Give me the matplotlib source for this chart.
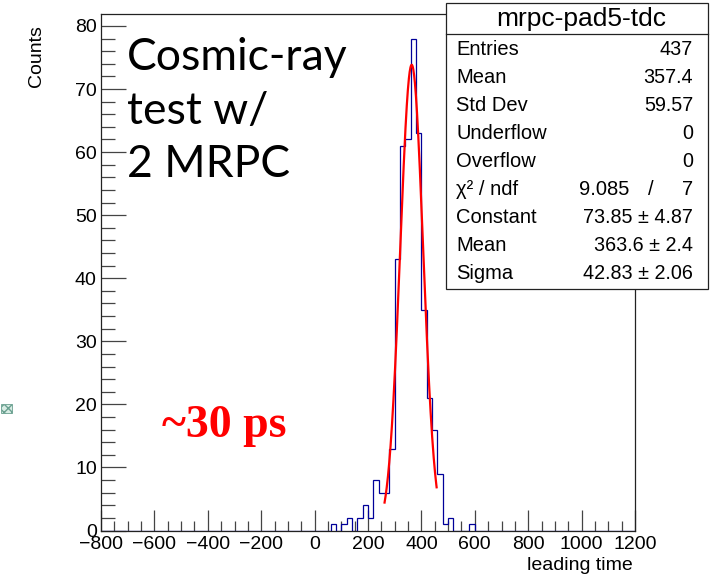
import numpy as np
import matplotlib
matplotlib.use('Agg')
import matplotlib.pyplot as plt
from matplotlib.patches import Rectangle
from matplotlib.ticker import MultipleLocator

# histogram contents (bins of 20 over -800..1200, only non-empty bins listed)
bin_low = [60, 100, 120, 160, 180, 200, 220, 240, 260, 280, 300, 320, 340,
           360, 380, 400, 420, 440, 460, 480, 500, 580]
counts = [1, 1, 2, 2, 4, 2, 8, 6, 6, 13, 43, 61, 62,
          78, 63, 35, 21, 16, 9, 1, 2, 1]

# gaus fit result
fit_const, fit_mean, fit_sigma = 73.85, 363.6, 42.83
fit_lo, fit_hi = 262, 457

stats_title = "mrpc-pad5-tdc"
stats_rows = [
    ("Entries", "437"),
    ("Mean", "357.4"),
    ("Std Dev", "59.57"),
    ("Underflow", "0"),
    ("Overflow", "0"),
    ("\u03c7\u00b2 / ndf", None),
    ("Constant", "73.85 \u00b1 4.87"),
    ("Mean", "363.6 \u00b1 2.4"),
    ("Sigma", "42.83 \u00b1 2.06"),
]
chi2, ndf = "9.085", "7"

note_lines = ["Cosmic-ray", "test w/", "2 MRPC"]

plt.rcParams['font.family'] = ['Liberation Sans', 'DejaVu Sans']

fig = plt.figure(figsize=(7.17, 5.79), dpi=100)
ax = fig.add_axes([101 / 717, 1 - 530.5 / 579, 534 / 717, 516.5 / 579])

edges = np.arange(-800, 1201, 20)
centers = np.array(bin_low) + 10
ax.hist(centers, bins=edges, weights=counts, histtype='step',
        color='#000099', linewidth=0.9)

xf = np.linspace(fit_lo, fit_hi, 200)
yf = fit_const * np.exp(-0.5 * ((xf - fit_mean) / fit_sigma) ** 2)
ax.plot(xf, yf, color='red', linewidth=1.6)

ax.set_xlim(-800, 1200)
ax.set_ylim(0, 81.9)
ax.xaxis.set_major_locator(MultipleLocator(200))
ax.xaxis.set_minor_locator(MultipleLocator(50))
ax.yaxis.set_major_locator(MultipleLocator(10))
ax.yaxis.set_minor_locator(MultipleLocator(2))
ax.tick_params(axis='both', which='both', direction='in', labelsize=14,
               color='#444444')
ax.tick_params(axis='y', which='major', length=18, width=0.9, pad=3)
ax.tick_params(axis='y', which='minor', length=10, width=0.9)
ax.tick_params(axis='x', which='major', length=15, width=0.9, pad=4)
ax.tick_params(axis='x', which='minor', length=7.5, width=0.9)
for s in ax.spines.values():
    s.set_linewidth(0.9)
    s.set_color('#222222')

ax.set_xticks(np.arange(-800, 1201, 200))
ax.set_xticklabels([("\u2212" + str(-v)) if v < 0 else str(v)
                    for v in range(-800, 1201, 200)])

fig.text(633 / 717, 1 - 566 / 579, "leading time", ha='right', va='center',
         fontsize=14)
fig.text(36 / 717, 1 - 25 / 579, "Counts", ha='center', va='top',
         rotation=90, fontsize=14)

# annotations
for line, base in zip(note_lines, [70.5, 123.5, 177]):
    fig.text(127 / 717, 1 - base / 579, line, ha='left', va='baseline',
             fontsize=32, family='Lato', color='black')
fig.text(162 / 717, 1 - 437 / 579, "~30 ps", ha='left', va='baseline',
         fontsize=33, family='Liberation Serif', fontweight='bold',
         color='red')

# stats box
bx0, bx1 = 446 / 717, 708 / 717
by0, by1 = 1 - 289 / 579, 1 - 3 / 579
fig.patches.append(Rectangle((bx0, by0), bx1 - bx0, by1 - by0,
                             transform=fig.transFigure, facecolor='white',
                             edgecolor='#222222', linewidth=0.9, zorder=5))
fig.lines.append(plt.Line2D([bx0, bx1], [1 - 34 / 579] * 2,
                            transform=fig.transFigure, color='#222222',
                            linewidth=0.9, zorder=6))
fig.text(581 / 717, 1 - 19 / 579, stats_title, ha='center',
         va='center', fontsize=19, zorder=7)
xl, xr = 456 / 717, 693 / 717
for i, (name, val) in enumerate(stats_rows):
    y = 1 - (49.5 + i * 28) / 579
    fig.text(xl, y, name, ha='left', va='center', fontsize=14.5, zorder=7)
    if val is None:
        # chi2 row is spread out in the original box
        fig.text(629 / 717, y, chi2, ha='right', va='center', fontsize=14.5,
                 zorder=7)
        fig.text(651 / 717, y, "/", ha='center', va='center', fontsize=14.5,
                 zorder=7)
        fig.text(xr, y, ndf, ha='right', va='center', fontsize=14.5,
                 zorder=7)
    else:
        fig.text(xr, y, val, ha='right', va='center', fontsize=14.2,
                 zorder=7)

# little pad icon on the left edge
fig.patches.append(Rectangle((1 / 717, 1 - 413 / 579), 11 / 717, 9 / 579,
                             transform=fig.transFigure, facecolor='#d8ece4',
                             edgecolor='#6aa090', linewidth=0.6,
                             hatch='xxxx', zorder=5))

fig.savefig('out.png', dpi=100)
